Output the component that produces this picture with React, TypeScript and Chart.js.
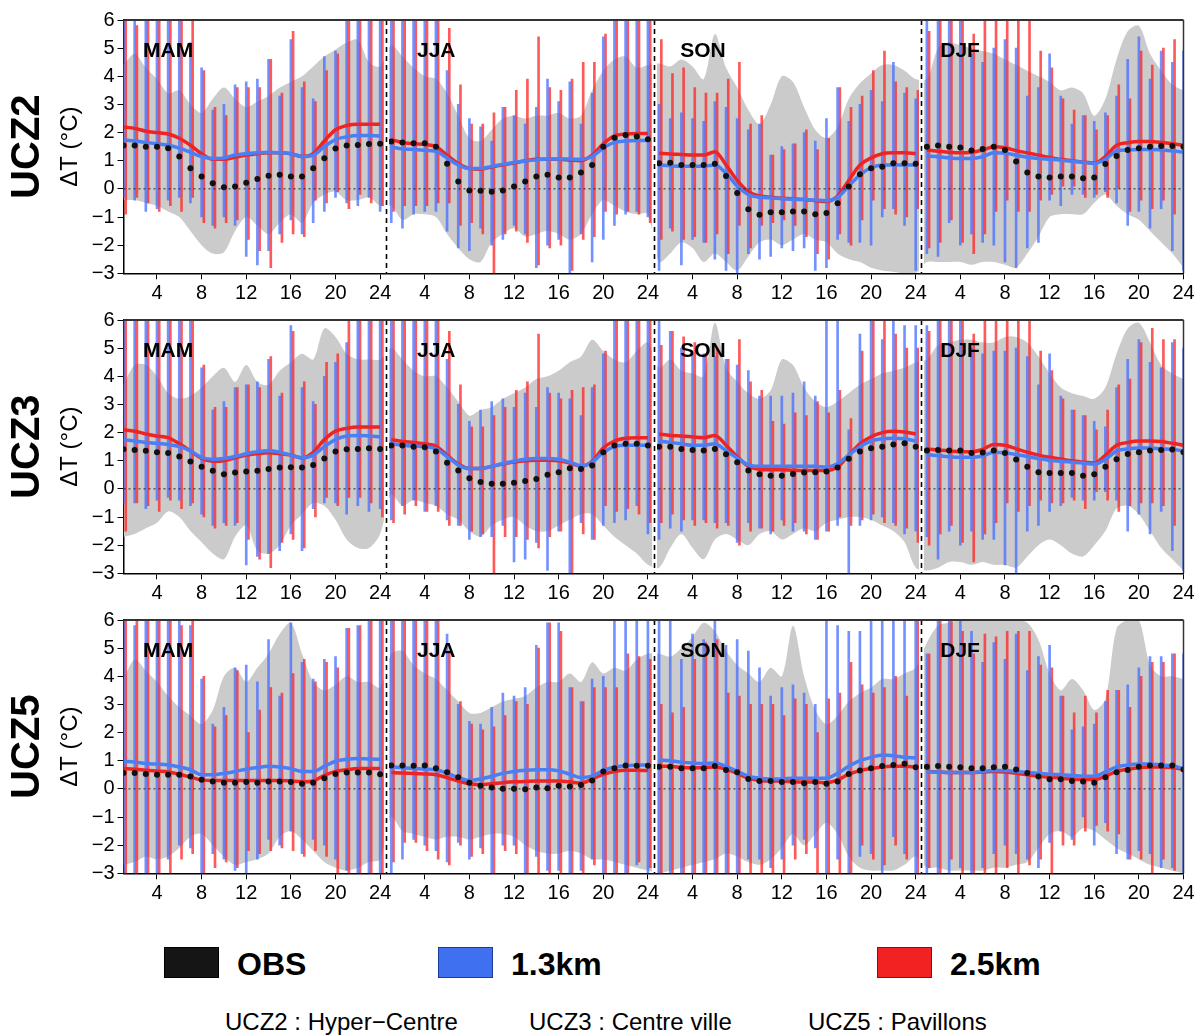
import React, { useEffect, useRef } from 'react';
import { Chart, registerables } from 'chart.js';

Chart.register(...registerables);

// ---------- categories / ticks ----------
const SEASONS = ['MAM', 'JJA', 'SON', 'DJF'];
const HOURS = [1, 2, 3, 4, 5, 6, 7, 8, 9, 10, 11, 12, 13, 14, 15, 16, 17, 18, 19, 20, 21, 22, 23, 24];
const X_TICKS = [4, 8, 12, 16, 20, 24, 28, 32, 36, 40, 44, 48, 52, 56, 60, 64, 68, 72, 76, 80, 84, 88, 92, 96];
const Y_MIN = -3;
const Y_MAX = 6;
const SEPARATORS = [24.5, 48.5, 72.5];
const SEASON_LABEL_X = [2.75, 27.3, 50.9, 74.2];
const LEGEND = ['OBS', '1.3km', '2.5km'];
const CAPTIONS = ['UCZ2 : Hyper\u2212Centre', 'UCZ3 : Centre ville', 'UCZ5 : Pavillons'];

// ---------- UCZ2 ----------
const UCZ2_OBS = [
  1.54, 1.54, 1.5, 1.5, 1.44, 1.15, 0.73, 0.44, 0.2, 0.06, 0.08, 0.22, 0.35, 0.47, 0.5, 0.44, 0.44, 0.73, 1.09, 1.43, 1.54, 1.56, 1.59, 1.6,
  1.68, 1.65, 1.62, 1.62, 1.5, 0.89, 0.26, -0.06, -0.07, -0.1, -0.06, 0.08, 0.26, 0.44, 0.5, 0.4, 0.4, 0.58, 0.85, 1.5, 1.82, 1.91, 1.86, 1.76,
  0.91, 0.93, 0.85, 0.85, 0.85, 0.89, 0.46, -0.15, -0.72, -0.92, -0.83, -0.83, -0.8, -0.8, -0.9, -0.86, -0.51, 0.08, 0.52, 0.73, 0.79, 0.91, 0.91, 0.89,
  1.5, 1.54, 1.5, 1.47, 1.36, 1.42, 1.5, 1.38, 0.97, 0.58, 0.44, 0.4, 0.44, 0.44, 0.38, 0.4, 0.88, 1.17, 1.38, 1.44, 1.5, 1.52, 1.52, 1.5,
];
const UCZ2_OBS_HI = [
  4.4, 4.8, 4.3, 3.9, 3.4, 3.5, 3.0, 2.7, 3.2, 3.6, 3.2, 2.9, 3.1, 3.3, 3.6, 3.8, 4.0, 4.35, 4.7, 4.95, 5.2, 5.3, 4.5, 4.35,
  5.1, 4.7, 4.3, 4.0, 3.9, 3.4, 2.6, 1.8, 1.7, 2.1, 2.5, 2.6, 2.5, 2.6, 2.6, 2.7, 2.5, 2.6, 3.5, 4.2, 4.6, 4.7, 4.3, 4.4,
  4.45, 4.35, 4.6, 4.35, 3.9, 5.5, 4.3, 3.6, 2.8, 2.3, 3.0, 4.0, 3.8, 2.9, 2.1, 1.8, 2.2, 3.2, 3.75, 4.1, 4.4, 4.4, 4.2, 3.9,
  3.9, 5.0, 5.2, 5.1, 5.0, 4.9, 4.8, 4.6, 4.4, 4.2, 4.0, 3.8, 3.5, 3.6, 3.4, 2.6, 3.2, 4.6, 5.6, 5.8, 4.8, 4.2, 3.7, 3.5,
];
const UCZ2_OBS_LO = [
  -0.4, -0.4, -0.5, -0.6, -0.8, -1.0, -1.5, -2.0, -2.3, -2.25, -1.5, -1.0, -1.3, -1.6, -1.2, -0.9, -1.2, -0.5, -0.2, -0.1, -0.4, -0.4, -0.3, -0.6,
  -0.6, -1.1, -0.9, -0.9, -1.0, -1.6, -2.1, -2.5, -2.6, -1.9, -1.6, -1.4, -1.7, -1.6, -1.5, -1.6, -1.8, -1.6, -0.9, -0.4, -0.6, -0.8, -0.9, -0.9,
  -2.6, -2.3, -1.9, -2.1, -2.6, -2.3, -2.6, -2.9, -2.4, -1.9, -1.8, -2.0, -1.8, -1.6, -1.8, -1.9, -2.3, -2.5, -2.6, -2.8, -2.9, -2.95, -3.0, -3.0,
  -2.6, -2.6, -2.6, -2.6, -2.7, -2.6, -2.6, -2.7, -2.8, -2.3, -1.7, -1.0, -0.9, -0.9, -0.9, -0.5, -0.2, -0.6, -0.9, -1.1, -1.5, -1.9, -2.3, -2.8,
];
const UCZ2_BLUE = [
  1.74, 1.7, 1.65, 1.6, 1.55, 1.45, 1.3, 1.15, 1.08, 1.1, 1.2, 1.25, 1.28, 1.3, 1.28, 1.25, 1.15, 1.2, 1.5, 1.75, 1.85, 1.9, 1.9, 1.88,
  1.48, 1.42, 1.4, 1.37, 1.33, 1.1, 0.85, 0.72, 0.72, 0.8, 0.87, 0.94, 0.99, 1.03, 1.06, 1.06, 1.06, 1.05, 1.15, 1.45, 1.65, 1.7, 1.72, 1.72,
  0.85, 0.82, 0.8, 0.8, 0.8, 0.85, 0.55, 0.1, -0.2, -0.3, -0.32, -0.35, -0.37, -0.38, -0.4, -0.42, -0.3, 0.1, 0.5, 0.75, 0.85, 0.85, 0.85, 0.85,
  1.17, 1.14, 1.1, 1.08, 1.08, 1.14, 1.28, 1.27, 1.2, 1.12, 1.08, 1.05, 1.02, 0.98, 0.95, 0.9, 1.05, 1.35, 1.38, 1.4, 1.4, 1.38, 1.35, 1.3,
];
const UCZ2_BLUE_HI = [
  6.5, 6.5, 6.5, 6.5, 6.5, 6.5, 5.2, 4.3, 2.8, 3.0, 3.7, 3.8, 3.9, 4.6, 3.3, 5.3, 3.6, 3.2, 4.7, 4.9, 6.5, 6.5, 6.5, 6.5,
  6.5, 6.5, 6.5, 6.5, 6.5, 4.2, 3.0, 2.5, 2.2, 1.7, 2.9, 2.6, 2.3, 2.9, 3.9, 3.1, 3.8, 2.3, 3.4, 5.4, 6.0, 6.5, 6.5, 6.5,
  3.0, 2.5, 2.7, 2.5, 2.4, 3.1, 2.9, 2.5, 2.1, 2.3, 1.2, 1.5, 1.6, 2.0, 1.7, 2.5, 3.6, 2.4, 3.0, 3.5, 3.1, 4.5, 3.4, 3.2,
  6.5, 6.0, 6.5, 6.5, 4.8, 4.5, 5.0, 5.3, 5.0, 3.3, 3.6, 4.8, 3.3, 2.3, 2.6, 2.4, 2.7, 3.3, 4.6, 5.4, 3.9, 4.9, 4.5, 4.9,
];
const UCZ2_BLUE_LO = [
  -0.3, -0.4, -0.8, -0.7, -0.4, -0.3, -0.5, -1.0, -1.3, -1.0, -1.3, -2.4, -2.7, -2.2, -1.6, -1.1, -1.6, -1.2, -0.8, -0.3, -0.5, -0.6, -0.3, -0.8,
  -1.2, -1.4, -0.9, -0.8, -0.8, -1.5, -2.1, -2.2, -1.4, -2.0, -1.8, -1.3, -1.6, -2.8, -2.0, -1.8, -3.0, -1.6, -2.6, -1.8, -1.3, -0.9, -0.8, -1.0,
  -2.9, -1.4, -2.7, -1.8, -1.9, -2.5, -2.9, -3.1, -2.3, -2.5, -2.4, -2.1, -2.2, -2.1, -2.9, -2.8, -1.8, -1.9, -1.9, -2.0, -1.0, -0.7, -1.3, -2.9,
  -2.3, -2.4, -1.2, -2.0, -1.6, -1.9, -2.0, -2.6, -2.8, -2.1, -1.9, -0.4, -0.6, -0.2, -0.2, -0.3, -0.1, -0.5, -1.3, -0.8, -1.4, -0.7, -2.2, -2.9,
];
const UCZ2_RED = [
  2.2, 2.15, 2.05, 2.0, 1.95, 1.8, 1.55, 1.25, 1.05, 1.05, 1.12, 1.2, 1.25, 1.28, 1.28, 1.25, 1.15, 1.25, 1.7, 2.1, 2.25, 2.3, 2.3, 2.3,
  1.75, 1.65, 1.6, 1.58, 1.5, 1.2, 0.9, 0.72, 0.7, 0.78, 0.85, 0.92, 1.0, 1.05, 1.05, 1.05, 1.02, 1.0, 1.2, 1.6, 1.88, 1.95, 1.97, 1.97,
  1.27, 1.24, 1.22, 1.2, 1.2, 1.32, 0.85, 0.3, -0.1, -0.25, -0.3, -0.33, -0.35, -0.38, -0.42, -0.45, -0.25, 0.3, 0.85, 1.1, 1.25, 1.28, 1.28, 1.25,
  1.38, 1.34, 1.3, 1.28, 1.3, 1.38, 1.5, 1.46, 1.36, 1.28, 1.2, 1.12, 1.05, 1.0, 0.95, 0.92, 1.15, 1.55, 1.64, 1.68, 1.68, 1.65, 1.6, 1.55,
];
const UCZ2_RED_HI = [
  6.5, 5.8, 6.5, 6.5, 6.5, 6.2, 6.5, 4.2, 2.9, 2.6, 3.6, 3.6, 3.6, 4.6, 3.4, 5.6, 3.8, 3.1, 4.2, 4.8, 6.5, 6.5, 6.5, 6.5,
  6.5, 6.5, 6.5, 6.5, 6.5, 5.7, 3.7, 2.3, 2.3, 2.7, 2.9, 3.5, 3.9, 5.4, 3.6, 3.5, 3.9, 4.5, 4.5, 5.5, 6.2, 6.5, 6.5, 6.5,
  5.3, 4.1, 4.3, 3.6, 3.4, 3.4, 3.9, 4.5, 2.3, 2.6, 1.2, 1.4, 1.6, 2.1, 1.4, 1.8, 3.6, 2.9, 3.3, 4.2, 4.9, 3.8, 3.6, 3.5,
  5.6, 6.5, 6.5, 6.1, 5.5, 6.2, 6.1, 6.5, 6.5, 6.5, 4.9, 4.3, 3.2, 2.8, 2.6, 2.1, 2.6, 3.7, 3.2, 4.9, 4.4, 5.0, 5.3, 3.0,
];
const UCZ2_RED_LO = [
  -0.9, -0.3, -0.5, -0.8, -0.6, -0.8, -0.3, -1.2, -1.4, -1.2, -1.1, -1.8, -2.2, -2.8, -1.9, -1.6, -1.7, -0.4, -0.5, -0.1, -0.7, -0.2, -0.5, -0.6,
  -0.8, -0.6, -0.6, -0.6, -0.5, -0.5, -1.3, -1.2, -1.6, -3.2, -1.6, -1.5, -1.9, -2.7, -2.1, -2.0, -2.9, -1.8, -1.7, -0.8, -0.9, -0.8, -0.9, -1.2,
  -1.8, -1.5, -1.8, -1.7, -1.9, -1.6, -2.3, -1.3, -2.1, -1.3, -1.2, -1.1, -1.3, -1.7, -2.3, -2.5, -1.6, -2.0, -1.1, -0.4, -0.7, -0.9, -1.0, -0.7,
  -2.1, -1.9, -1.1, -1.9, -2.3, -1.6, -0.8, -0.4, -0.8, -0.8, -0.4, -0.2, 0.1, 0.1, -0.3, -0.2, -0.3, 0.0, -0.8, -0.4, -0.7, -0.4, -0.9, -2.2,
];

// ---------- UCZ3 ----------
const UCZ3_OBS = [
  1.41, 1.38, 1.35, 1.3, 1.27, 1.15, 0.97, 0.79, 0.64, 0.52, 0.58, 0.62, 0.64, 0.71, 0.76, 0.77, 0.76, 0.85, 1.08, 1.33, 1.41, 1.42, 1.44, 1.42,
  1.54, 1.54, 1.5, 1.48, 1.33, 0.93, 0.65, 0.38, 0.24, 0.18, 0.18, 0.22, 0.28, 0.35, 0.5, 0.59, 0.73, 0.71, 0.83, 1.3, 1.54, 1.6, 1.6, 1.54,
  1.5, 1.5, 1.42, 1.38, 1.36, 1.42, 1.23, 0.95, 0.65, 0.52, 0.47, 0.47, 0.53, 0.58, 0.59, 0.62, 0.76, 1.07, 1.33, 1.44, 1.5, 1.58, 1.62, 1.5,
  1.36, 1.38, 1.36, 1.36, 1.27, 1.29, 1.36, 1.27, 1.04, 0.79, 0.59, 0.56, 0.56, 0.56, 0.47, 0.52, 0.79, 1.05, 1.24, 1.3, 1.36, 1.38, 1.4, 1.3,
];
const UCZ3_OBS_HI = [
  3.7, 4.4, 4.4, 4.0, 3.4, 3.2, 3.3, 3.6, 4.0, 4.3, 3.8, 4.4, 3.8, 3.7, 4.2, 4.5, 4.8, 4.6, 5.7, 5.4, 4.8, 4.6, 4.6, 4.6,
  5.0, 4.6, 4.2, 4.0, 4.0, 3.6, 3.1, 2.6, 2.8, 2.9, 3.2, 3.4, 3.6, 3.9, 4.0, 4.2, 4.5, 4.7, 5.3, 4.9, 4.6, 4.5, 4.9, 5.2,
  4.3, 4.6, 4.2, 4.1, 4.0, 5.9, 4.3, 3.8, 3.4, 3.2, 3.5, 4.6, 4.4, 3.6, 3.1, 2.9, 3.1, 3.4, 3.7, 3.9, 4.1, 4.2, 4.3, 4.5,
  4.6, 5.1, 5.2, 5.3, 5.3, 5.2, 5.2, 5.4, 5.4, 5.2, 4.7, 4.1, 3.6, 3.4, 3.3, 3.2, 3.6, 4.8, 5.7, 5.9, 5.2, 4.4, 4.1, 3.9,
];
const UCZ3_OBS_LO = [
  -1.7, -1.6, -1.4, -1.2, -0.8, -1.0, -1.5, -1.9, -2.3, -2.5, -1.7, -1.3, -2.2, -2.3, -2.0, -1.3, -0.9, -0.5, -0.6, -1.1, -1.8, -2.1, -2.1, -1.6,
  -0.2, -0.6, -0.4, -0.5, -0.6, -0.9, -1.1, -1.5, -1.7, -1.3, -1.1, -1.0, -1.3, -1.5, -1.5, -1.3, -1.1, -0.9, -0.9, -1.3, -1.7, -2.0, -2.3, -2.7,
  -2.8, -2.1, -1.6, -2.1, -2.5, -1.8, -1.6, -1.8, -2.0, -1.6, -1.5, -1.8, -1.6, -1.4, -1.5, -1.2, -1.1, -1.0, -1.0, -1.1, -1.3, -1.5, -1.9, -2.8,
  -2.9, -2.8, -2.6, -2.6, -2.7, -2.6, -2.7, -2.7, -2.8, -2.4, -2.0, -1.8, -2.0, -2.3, -2.4, -2.0, -1.5, -0.7, -0.6, -0.9, -1.5, -2.1, -2.5, -2.9,
];
const UCZ3_BLUE = [
  1.75, 1.7, 1.65, 1.62, 1.58, 1.5, 1.35, 1.12, 1.05, 1.08, 1.15, 1.25, 1.32, 1.35, 1.3, 1.2, 1.1, 1.2, 1.5, 1.75, 1.88, 1.9, 1.88, 1.85,
  1.6, 1.55, 1.52, 1.5, 1.42, 1.15, 0.85, 0.72, 0.72, 0.8, 0.9, 0.98, 1.05, 1.08, 1.08, 1.05, 0.95, 0.82, 0.95, 1.3, 1.5, 1.55, 1.55, 1.55,
  1.7, 1.65, 1.6, 1.55, 1.55, 1.6, 1.35, 1.1, 0.85, 0.8, 0.8, 0.8, 0.8, 0.8, 0.8, 0.78, 0.9, 1.2, 1.5, 1.7, 1.78, 1.8, 1.78, 1.7,
  1.22, 1.18, 1.14, 1.12, 1.12, 1.17, 1.3, 1.28, 1.22, 1.15, 1.08, 1.02, 0.98, 0.95, 0.92, 0.88, 1.05, 1.35, 1.42, 1.45, 1.45, 1.42, 1.4, 1.35,
];
const UCZ3_BLUE_HI = [
  6.5, 6.5, 6.5, 6.5, 6.5, 6.5, 6.5, 4.3, 2.8, 3.1, 3.6, 3.7, 3.8, 4.6, 3.3, 5.8, 3.6, 3.1, 4.0, 4.5, 5.2, 6.5, 6.5, 6.5,
  6.5, 6.5, 6.5, 6.5, 6.5, 4.6, 3.0, 2.4, 2.8, 3.1, 3.2, 2.9, 3.4, 2.9, 3.6, 3.4, 3.2, 2.6, 3.6, 4.8, 6.5, 6.5, 6.5, 6.5,
  6.5, 5.6, 5.0, 4.8, 4.8, 4.7, 4.6, 4.4, 4.2, 3.3, 3.3, 3.3, 3.4, 3.8, 3.3, 6.0, 6.0, 2.1, 5.5, 6.0, 5.3, 6.0, 5.8, 5.8,
  5.8, 6.5, 6.5, 6.5, 5.0, 4.8, 4.9, 4.9, 5.0, 4.7, 3.7, 4.8, 3.3, 2.8, 2.6, 2.4, 2.2, 3.6, 4.6, 5.3, 4.5, 4.3, 5.2, 5.0,
];
const UCZ3_BLUE_LO = [
  -0.5, -0.5, -0.7, -0.4, -0.3, -0.4, -0.6, -0.9, -1.3, -1.2, -1.3, -2.7, -2.4, -2.3, -2.2, -1.6, -2.2, -0.7, -0.5, -0.5, -0.9, -0.6, -0.8, -0.7,
  -1.1, -0.6, -0.4, -0.8, -0.6, -1.1, -1.3, -1.8, -1.7, -1.7, -1.3, -2.6, -2.5, -1.9, -2.9, -1.5, -3.0, -1.2, -1.8, -1.3, -1.2, -1.1, -0.6, -1.6,
  -1.8, -1.4, -1.5, -1.1, -1.1, -1.2, -1.2, -1.9, -1.2, -1.4, -1.6, -1.1, -1.5, -1.5, -1.8, -1.5, -1.3, -3.0, -1.3, -1.1, -1.0, -1.2, -1.6, -1.5,
  -1.7, -2.5, -1.5, -2.0, -1.5, -1.8, -1.8, -2.7, -3.0, -1.5, -1.3, -0.8, -0.6, -0.3, -0.4, -0.4, -0.1, -0.4, -1.5, -0.9, -1.6, -0.8, -2.2, -2.9,
];
const UCZ3_RED = [
  2.1, 2.05, 1.95, 1.88, 1.82, 1.6, 1.35, 1.08, 0.98, 1.0, 1.1, 1.2, 1.25, 1.28, 1.25, 1.2, 1.1, 1.3, 1.75, 2.05, 2.15, 2.2, 2.2, 2.2,
  1.75, 1.68, 1.65, 1.6, 1.52, 1.2, 0.88, 0.72, 0.72, 0.8, 0.88, 0.95, 1.0, 1.02, 1.02, 1.0, 0.92, 0.8, 0.98, 1.45, 1.7, 1.8, 1.82, 1.82,
  1.95, 1.9, 1.88, 1.85, 1.82, 1.9, 1.55, 1.15, 0.8, 0.7, 0.68, 0.68, 0.66, 0.65, 0.65, 0.65, 0.78, 1.2, 1.6, 1.85, 2.0, 2.05, 2.02, 1.95,
  1.42, 1.38, 1.35, 1.32, 1.32, 1.4, 1.58, 1.55, 1.42, 1.3, 1.2, 1.12, 1.06, 1.0, 0.95, 0.92, 1.2, 1.55, 1.65, 1.7, 1.7, 1.68, 1.62, 1.55,
];
const UCZ3_RED_HI = [
  6.5, 6.5, 6.5, 6.5, 6.5, 6.5, 6.5, 4.4, 2.9, 2.9, 3.6, 3.7, 3.6, 4.7, 3.4, 5.6, 3.8, 3.0, 4.5, 4.8, 6.5, 6.5, 6.5, 6.5,
  6.5, 6.5, 6.5, 6.5, 6.5, 5.6, 3.7, 2.2, 2.2, 2.6, 2.9, 3.5, 3.8, 5.5, 3.4, 3.2, 3.5, 3.6, 3.7, 4.9, 6.5, 6.5, 6.5, 6.5,
  5.1, 5.6, 5.4, 5.2, 4.8, 5.0, 4.6, 5.3, 3.8, 3.5, 2.4, 2.3, 2.7, 2.6, 3.1, 2.7, 3.5, 2.5, 4.9, 6.0, 6.5, 5.5, 5.0, 5.0,
  5.6, 6.5, 6.5, 6.5, 5.5, 6.5, 6.0, 6.5, 6.5, 6.5, 4.9, 4.2, 3.2, 2.8, 2.6, 2.1, 2.8, 3.7, 3.9, 5.2, 5.7, 5.3, 5.3, 4.5,
];
const UCZ3_RED_LO = [
  -1.5, -0.5, -0.6, -0.8, -0.4, -0.7, -0.5, -1.0, -1.4, -1.3, -1.2, -1.8, -2.5, -2.8, -1.9, -1.8, -2.1, -1.0, -0.3, -0.6, -0.3, -0.3, -0.5, -1.0,
  -1.2, -0.9, -0.6, -0.8, -0.8, -1.3, -1.3, -1.5, -1.6, -3.1, -1.7, -1.7, -1.8, -2.1, -1.7, -1.5, -3.0, -1.6, -1.8, -0.6, -0.8, -0.7, -0.9, -1.2,
  -1.2, -0.9, -1.1, -1.3, -1.2, -1.4, -1.3, -2.0, -1.5, -1.4, -1.5, -1.3, -1.2, -1.6, -1.8, -1.5, -1.0, -1.3, -1.1, -0.9, -1.2, -1.3, -1.4, -1.9,
  -2.0, -1.6, -1.3, -1.9, -2.6, -1.6, -1.2, -0.5, -0.8, -0.6, -0.4, -0.5, -0.5, -0.4, -0.7, -0.1, -0.4, -0.8, -0.6, -0.5, -0.5, -0.6, -1.3, -2.2,
];

// ---------- UCZ5 ----------
const UCZ5_OBS = [
  0.56, 0.56, 0.53, 0.5, 0.5, 0.5, 0.44, 0.32, 0.26, 0.22, 0.22, 0.24, 0.22, 0.26, 0.26, 0.24, 0.18, 0.22, 0.38, 0.53, 0.58, 0.58, 0.58, 0.52,
  0.83, 0.83, 0.82, 0.83, 0.73, 0.59, 0.41, 0.22, 0.11, 0.05, 0.0, 0.0, -0.01, 0.05, 0.02, 0.11, 0.08, 0.14, 0.3, 0.62, 0.73, 0.83, 0.82, 0.82,
  0.79, 0.79, 0.73, 0.73, 0.73, 0.81, 0.67, 0.59, 0.35, 0.28, 0.28, 0.24, 0.24, 0.2, 0.24, 0.18, 0.26, 0.53, 0.65, 0.73, 0.81, 0.85, 0.89, 0.77,
  0.79, 0.81, 0.79, 0.77, 0.73, 0.73, 0.77, 0.79, 0.69, 0.56, 0.44, 0.34, 0.34, 0.28, 0.26, 0.22, 0.41, 0.59, 0.67, 0.79, 0.83, 0.83, 0.83, 0.69,
];
const UCZ5_OBS_HI = [
  3.9, 4.6, 4.2, 3.8, 3.3, 2.9, 2.6, 2.3, 2.8, 4.0, 4.3, 3.8, 4.3, 4.8, 5.5, 5.9, 4.8, 3.8, 3.5, 3.7, 4.0, 3.8, 3.8, 3.6,
  4.8, 4.9, 4.4, 4.1, 3.9, 3.5, 3.1, 2.7, 2.7, 2.9, 3.1, 3.2, 3.3, 3.6, 3.8, 3.8, 4.1, 3.8, 4.5, 4.1, 4.3, 4.2, 4.6, 4.8,
  4.8, 4.7, 5.0, 5.4, 5.9, 5.6, 4.9, 4.4, 4.1, 3.8, 4.3, 4.0, 5.8, 4.0, 2.8, 2.3, 2.6, 3.1, 3.4, 3.6, 3.9, 3.9, 4.1, 4.3,
  5.2, 5.8, 5.9, 6.0, 6.0, 6.0, 6.0, 6.0, 6.0, 5.9, 5.3, 4.1, 3.5, 3.9, 3.5, 2.8, 3.2, 5.7, 6.0, 6.0, 4.4, 4.0, 4.0, 3.9,
];
const UCZ5_OBS_LO = [
  -2.7, -2.6, -2.4, -2.5, -2.4, -2.1, -1.7, -1.6, -2.0, -2.4, -2.7, -2.6, -2.5, -2.3, -1.7, -1.5, -1.8, -2.2, -2.6, -2.8, -2.9, -2.8, -2.6, -2.5,
  -1.0, -1.5, -1.6, -1.7, -1.8, -1.7, -1.7, -1.8, -1.7, -1.6, -1.6, -1.7, -2.0, -2.2, -2.3, -2.3, -2.2, -2.3, -2.5, -2.5, -2.6, -2.7, -2.8, -2.9,
  -3.0, -2.9, -2.8, -2.7, -2.6, -2.5, -2.3, -2.4, -2.6, -2.7, -2.5, -2.1, -1.6, -2.0, -1.6, -1.2, -1.6, -2.4, -2.8, -2.9, -2.9, -2.9, -2.7, -2.4,
  -2.8, -2.8, -2.9, -2.9, -2.9, -2.9, -2.8, -2.8, -2.7, -2.6, -2.1, -1.6, -1.5, -1.7, -1.4, -1.5, -1.8, -2.1, -2.3, -2.5, -2.7, -2.8, -2.9, -3.0,
];
const UCZ5_BLUE = [
  0.98, 0.95, 0.9, 0.88, 0.85, 0.78, 0.68, 0.5, 0.5, 0.55, 0.62, 0.7, 0.76, 0.8, 0.78, 0.72, 0.62, 0.62, 0.8, 0.98, 1.05, 1.08, 1.06, 1.05,
  0.78, 0.75, 0.72, 0.7, 0.68, 0.55, 0.4, 0.3, 0.35, 0.45, 0.55, 0.62, 0.66, 0.68, 0.68, 0.64, 0.52, 0.4, 0.45, 0.65, 0.78, 0.82, 0.85, 0.85,
  1.02, 1.0, 0.95, 0.92, 0.9, 0.92, 0.8, 0.62, 0.45, 0.38, 0.35, 0.35, 0.38, 0.38, 0.38, 0.38, 0.55, 0.8, 1.0, 1.12, 1.2, 1.18, 1.12, 1.1,
  0.6, 0.6, 0.58, 0.58, 0.58, 0.62, 0.65, 0.65, 0.62, 0.58, 0.55, 0.52, 0.5, 0.48, 0.45, 0.45, 0.6, 0.78, 0.85, 0.88, 0.88, 0.85, 0.82, 0.72,
];
const UCZ5_BLUE_HI = [
  6.5, 5.8, 6.5, 6.5, 6.5, 6.5, 5.8, 3.9, 2.3, 2.9, 4.3, 4.4, 3.8, 5.3, 3.3, 5.9, 4.5, 3.9, 4.6, 4.7, 5.7, 5.8, 6.5, 6.5,
  6.5, 6.5, 6.5, 6.5, 6.5, 5.5, 3.0, 2.4, 2.3, 2.9, 3.4, 3.3, 3.6, 5.1, 5.9, 5.9, 3.6, 3.1, 3.9, 4.0, 6.0, 6.0, 6.0, 6.0,
  6.5, 6.5, 4.6, 5.5, 5.3, 6.5, 5.1, 5.3, 4.9, 4.3, 3.3, 3.6, 3.7, 3.4, 3.0, 6.0, 5.8, 5.6, 5.6, 6.0, 6.0, 6.0, 6.0, 6.0,
  4.8, 6.0, 6.5, 6.5, 5.6, 4.5, 5.2, 4.6, 5.5, 4.2, 4.7, 5.1, 3.3, 2.1, 2.2, 2.3, 3.1, 3.5, 3.7, 4.3, 4.7, 4.7, 4.8, 4.8,
];
const UCZ5_BLUE_LO = [
  -3.5, -3.5, -3.5, -3.5, -2.5, -2.0, -2.1, -3.0, -2.3, -2.5, -2.9, -3.5, -2.5, -1.8, -2.0, -1.5, -2.3, -1.8, -2.0, -2.5, -2.9, -3.5, -3.5, -3.5,
  -3.0, -2.5, -1.8, -2.0, -2.2, -2.6, -1.9, -2.5, -2.1, -3.5, -2.0, -2.0, -3.5, -2.4, -2.9, -2.9, -3.5, -2.9, -2.5, -3.5, -3.0, -3.0, -2.7, -3.0,
  -3.5, -3.5, -3.5, -3.5, -3.5, -3.5, -3.5, -3.5, -2.5, -2.5, -2.8, -2.5, -2.0, -1.8, -2.1, -3.5, -2.5, -3.0, -2.4, -2.3, -3.0, -1.7, -2.3, -3.5,
  -3.5, -3.5, -3.5, -2.8, -3.0, -2.8, -2.3, -2.0, -2.3, -2.5, -2.8, -1.9, -1.5, -1.8, -1.0, -2.0, -1.2, -2.3, -2.5, -2.2, -2.3, -2.8, -2.8, -3.5,
];
const UCZ5_RED = [
  0.72, 0.7, 0.66, 0.63, 0.6, 0.52, 0.42, 0.32, 0.3, 0.3, 0.3, 0.3, 0.3, 0.3, 0.3, 0.28, 0.25, 0.28, 0.48, 0.62, 0.68, 0.72, 0.72, 0.72,
  0.58, 0.56, 0.55, 0.53, 0.5, 0.4, 0.28, 0.18, 0.15, 0.18, 0.22, 0.25, 0.26, 0.28, 0.28, 0.28, 0.25, 0.2, 0.35, 0.52, 0.62, 0.66, 0.66, 0.65,
  0.8, 0.8, 0.76, 0.75, 0.75, 0.78, 0.7, 0.55, 0.38, 0.3, 0.28, 0.28, 0.25, 0.24, 0.24, 0.22, 0.32, 0.52, 0.65, 0.72, 0.78, 0.8, 0.8, 0.78,
  0.62, 0.6, 0.58, 0.58, 0.58, 0.6, 0.62, 0.6, 0.55, 0.5, 0.45, 0.42, 0.38, 0.35, 0.33, 0.33, 0.45, 0.62, 0.7, 0.75, 0.78, 0.78, 0.75, 0.7,
];
const UCZ5_RED_HI = [
  6.5, 6.5, 6.5, 6.5, 6.5, 5.8, 6.0, 4.0, 2.2, 2.6, 4.2, 2.0, 2.8, 3.6, 3.4, 4.1, 4.6, 3.8, 4.5, 4.3, 5.7, 5.8, 6.0, 6.0,
  6.5, 6.5, 6.5, 6.5, 6.5, 4.9, 3.1, 2.3, 2.1, 2.2, 2.6, 3.1, 3.0, 5.0, 5.9, 5.6, 3.6, 3.1, 3.6, 3.6, 3.6, 4.8, 4.7, 4.6,
  3.0, 2.7, 2.9, 4.6, 5.2, 5.3, 3.4, 3.3, 3.0, 3.0, 3.0, 2.6, 3.2, 3.0, 2.0, 3.2, 3.4, 4.5, 3.7, 3.4, 3.6, 4.0, 3.3, 6.0,
  4.8, 6.0, 6.0, 5.6, 4.8, 5.5, 5.4, 5.6, 5.6, 5.6, 4.4, 4.3, 3.3, 2.7, 3.3, 2.7, 3.5, 3.5, 2.9, 4.0, 4.5, 4.5, 4.8, 4.5,
];
const UCZ5_RED_LO = [
  -3.5, -3.2, -3.0, -3.2, -3.5, -2.5, -2.3, -3.5, -2.8, -2.6, -2.8, -2.2, -2.3, -2.2, -2.1, -2.2, -2.4, -2.2, -2.4, -3.0, -3.3, -3.5, -3.5, -3.5,
  -2.6, -1.9, -1.9, -2.2, -2.5, -2.7, -2.0, -2.4, -2.3, -3.5, -2.2, -2.3, -3.5, -3.5, -3.0, -3.5, -3.5, -3.0, -2.7, -3.5, -3.0, -3.0, -2.6, -2.8,
  -3.5, -3.5, -3.5, -3.5, -3.5, -3.5, -3.5, -3.5, -3.5, -3.0, -3.0, -3.5, -2.5, -2.3, -3.5, -3.5, -3.0, -3.5, -2.0, -2.5, -2.7, -2.0, -2.5, -3.5,
  -2.8, -3.5, -2.5, -3.5, -3.5, -3.5, -3.5, -2.8, -3.0, -2.7, -2.5, -3.0, -2.0, -2.0, -1.5, -1.3, -1.5, -1.6, -2.5, -2.5, -3.0, -2.5, -2.9, -3.3,
];

const PANELS = [
  { name: 'UCZ2', obs: UCZ2_OBS, obsHi: UCZ2_OBS_HI, obsLo: UCZ2_OBS_LO, blue: UCZ2_BLUE, blueHi: UCZ2_BLUE_HI, blueLo: UCZ2_BLUE_LO, red: UCZ2_RED, redHi: UCZ2_RED_HI, redLo: UCZ2_RED_LO },
  { name: 'UCZ3', obs: UCZ3_OBS, obsHi: UCZ3_OBS_HI, obsLo: UCZ3_OBS_LO, blue: UCZ3_BLUE, blueHi: UCZ3_BLUE_HI, blueLo: UCZ3_BLUE_LO, red: UCZ3_RED, redHi: UCZ3_RED_HI, redLo: UCZ3_RED_LO },
  { name: 'UCZ5', obs: UCZ5_OBS, obsHi: UCZ5_OBS_HI, obsLo: UCZ5_OBS_LO, blue: UCZ5_BLUE, blueHi: UCZ5_BLUE_HI, blueLo: UCZ5_BLUE_LO, red: UCZ5_RED, redHi: UCZ5_RED_HI, redLo: UCZ5_RED_LO },
];

// ---------- styles ----------
const FONT = "'Liberation Sans', Arial, Helvetica, sans-serif";
const GREY = '#cbcbcb';
const RED_LINE = '#ee2424';
const BLUE_LINE = '#4a7ef2';
const RED_BAR = 'rgba(255, 35, 35, 0.75)';
const BLUE_BAR = 'rgba(70, 110, 255, 0.75)';
const RED_BAR_SHIFT = 0.2;

type Pt = { x: number; y: number | null };

function continuous(vals: number[]): Pt[] {
  const out: Pt[] = [];
  SEASONS.forEach((_, s) => HOURS.forEach((h, k) => out.push({ x: s * 24 + h, y: vals[s * 24 + k] })));
  return out;
}
function broken(vals: number[]): Pt[] {
  const out: Pt[] = [];
  SEASONS.forEach((_, s) => {
    HOURS.forEach((h, k) => out.push({ x: s * 24 + h, y: vals[s * 24 + k] }));
    if (s < SEASONS.length - 1) out.push({ x: s * 24 + 24.5, y: null });
  });
  return out;
}
function ranges(lo: number[], hi: number[], shift: number) {
  const out: { x: number; y: [number, number] }[] = [];
  SEASONS.forEach((_, s) => HOURS.forEach((h, k) => out.push({ x: s * 24 + h + shift, y: [lo[s * 24 + k], hi[s * 24 + k]] })));
  return out;
}
const fmt = (v: number) => (v < 0 ? '\u2212' + Math.abs(v) : String(v));

function makeDecor(name: string) {
  return {
    id: 'decor',
    afterDatasetsDraw(chart: any) {
      const { ctx, chartArea: a, scales } = chart;
      const x = scales.x;
      const y = scales.y;
      ctx.save();
      ctx.beginPath();
      ctx.rect(a.left, a.top, a.right - a.left, a.bottom - a.top);
      ctx.clip();
      const y0 = y.getPixelForValue(0);
      ctx.setLineDash([2, 3]);
      ctx.strokeStyle = '#222';
      ctx.lineWidth = 1;
      ctx.beginPath();
      ctx.moveTo(a.left, y0);
      ctx.lineTo(a.right, y0);
      ctx.stroke();
      SEPARATORS.forEach((v) => {
        const px = Math.round(x.getPixelForValue(v)) + 0.5;
        ctx.setLineDash([]);
        ctx.strokeStyle = '#ffffff';
        ctx.lineWidth = 5;
        ctx.beginPath();
        ctx.moveTo(px, a.top);
        ctx.lineTo(px, a.bottom);
        ctx.stroke();
        ctx.setLineDash([5, 4]);
        ctx.strokeStyle = '#000';
        ctx.lineWidth = 1.6;
        ctx.beginPath();
        ctx.moveTo(px, a.top);
        ctx.lineTo(px, a.bottom);
        ctx.stroke();
      });
      ctx.restore();
    },
    afterDraw(chart: any) {
      const { ctx, chartArea: a, scales } = chart;
      const x = scales.x;
      ctx.save();
      ctx.strokeStyle = '#333';
      ctx.lineWidth = 2;
      ctx.beginPath();
      ctx.moveTo(a.left, a.top);
      ctx.lineTo(a.right, a.top);
      ctx.stroke();
      ctx.lineWidth = 1.5;
      ctx.beginPath();
      ctx.moveTo(a.right, a.top);
      ctx.lineTo(a.right, a.bottom);
      ctx.stroke();
      ctx.fillStyle = '#000';
      ctx.font = `bold 21px ${FONT}`;
      ctx.textAlign = 'left';
      ctx.textBaseline = 'middle';
      SEASONS.forEach((s, i) => ctx.fillText(s, x.getPixelForValue(SEASON_LABEL_X[i]), a.top + 31));
      const mid = (a.top + a.bottom) / 2;
      ctx.textAlign = 'center';
      ctx.save();
      ctx.translate(28, mid);
      ctx.rotate(-Math.PI / 2);
      ctx.font = `bold 40px ${FONT}`;
      ctx.fillText(name, 0, 0);
      ctx.restore();
      ctx.save();
      ctx.translate(70, mid);
      ctx.rotate(-Math.PI / 2);
      ctx.font = `24px ${FONT}`;
      ctx.fillText('\u0394T (\u00B0C)', 0, 0);
      ctx.restore();
      ctx.restore();
    },
  };
}

function buildConfig(p: (typeof PANELS)[number]): any {
  return {
    type: 'line',
    data: {
      datasets: [
        { type: 'line', data: continuous(p.obsHi), fill: '+1', backgroundColor: GREY, borderColor: 'rgba(0,0,0,0)', borderWidth: 0, pointRadius: 0, tension: 0.3, order: 10 },
        { type: 'line', data: continuous(p.obsLo), fill: false, borderColor: 'rgba(0,0,0,0)', borderWidth: 0, pointRadius: 0, tension: 0.3, order: 9 },
        { type: 'bar', data: ranges(p.redLo, p.redHi, RED_BAR_SHIFT), backgroundColor: RED_BAR, borderWidth: 0, barThickness: 2, grouped: false, order: 8 },
        { type: 'bar', data: ranges(p.blueLo, p.blueHi, 0), backgroundColor: BLUE_BAR, borderWidth: 0, barThickness: 2, grouped: false, order: 7 },
        { type: 'line', data: broken(p.red), borderColor: RED_LINE, borderWidth: 3.5, pointRadius: 0, fill: false, cubicInterpolationMode: 'monotone', spanGaps: false, order: 4 },
        { type: 'line', data: broken(p.blue), borderColor: BLUE_LINE, borderWidth: 3.5, pointRadius: 0, fill: false, cubicInterpolationMode: 'monotone', spanGaps: false, order: 3 },
        { type: 'line', data: continuous(p.obs), showLine: false, pointRadius: 3, pointBackgroundColor: '#111', pointBorderWidth: 0, order: 1 },
      ],
    },
    options: {
      animation: false,
      responsive: false,
      events: [],
      layout: { padding: { top: 20, left: 0, right: 15.5, bottom: 0 } },
      plugins: { legend: { display: false }, tooltip: { enabled: false }, title: { display: false } },
      scales: {
        x: {
          type: 'linear',
          min: 1,
          max: 96,
          offset: false,
          afterFit: (s: any) => { s.height = 26.7; },
          afterBuildTicks: (s: any) => { s.ticks = X_TICKS.map((v) => ({ value: v })); },
          grid: { display: true, offset: false, drawOnChartArea: false, drawTicks: true, tickLength: 6, color: '#000', lineWidth: 1 },
          border: { display: true, color: '#000', width: 1.5 },
          ticks: {
            autoSkip: false,
            maxRotation: 0,
            padding: 2,
            color: '#000',
            font: { family: FONT, size: 20 },
            callback: (v: number) => String(((v - 1) % 24) + 1),
          },
        },
        y: {
          type: 'linear',
          min: Y_MIN,
          max: Y_MAX,
          afterFit: (s: any) => { s.width = 123.5; },
          grid: { display: true, drawOnChartArea: false, drawTicks: true, tickLength: 6, color: '#000', lineWidth: 1 },
          border: { display: true, color: '#000', width: 1.5 },
          ticks: { stepSize: 1, padding: 3, color: '#000', font: { family: FONT, size: 20 }, callback: (v: number) => fmt(v) },
        },
      },
    },
    plugins: [makeDecor(p.name)],
  };
}

function Panel({ idx }: { idx: number }) {
  const ref = useRef<HTMLCanvasElement>(null);
  useEffect(() => {
    if (!ref.current) return;
    const chart = new Chart(ref.current, buildConfig(PANELS[idx]));
    return () => chart.destroy();
  }, [idx]);
  return (
    <canvas
      ref={ref}
      width={1199}
      height={300}
      style={{ position: 'absolute', left: 0, top: idx * 300, width: 1199, height: 300 }}
    />
  );
}

const legendBox = (left: number, bg: string, border: string): React.CSSProperties => ({
  position: 'absolute', left, top: 947, width: 53, height: 29, background: bg, border: `1.5px solid ${border}`,
});
const legendText = (left: number): React.CSSProperties => ({
  position: 'absolute', left, top: 948, fontFamily: FONT, fontWeight: 'bold', fontSize: 32, lineHeight: '32px', color: '#000', whiteSpace: 'nowrap',
});
const captionText = (left: number): React.CSSProperties => ({
  position: 'absolute', left, top: 1010, fontFamily: FONT, fontSize: 24, lineHeight: '24px', color: '#000', whiteSpace: 'nowrap',
});

export default function App() {
  return (
    <div style={{ position: 'absolute', left: 0, top: 0, width: 1199, height: 1036, background: '#fff', overflow: 'hidden' }}>
      {PANELS.map((_, i) => (
        <Panel key={i} idx={i} />
      ))}
      <div style={legendBox(164, '#151515', '#000')} />
      <div style={legendText(237)}>{LEGEND[0]}</div>
      <div style={legendBox(438, '#3f70f0', '#1d3c9a')} />
      <div style={legendText(511)}>{LEGEND[1]}</div>
      <div style={legendBox(877, '#f02222', '#8a1010')} />
      <div style={legendText(950)}>{LEGEND[2]}</div>
      <div style={captionText(225)}>{CAPTIONS[0]}</div>
      <div style={captionText(529)}>{CAPTIONS[1]}</div>
      <div style={captionText(808)}>{CAPTIONS[2]}</div>
    </div>
  );
}
